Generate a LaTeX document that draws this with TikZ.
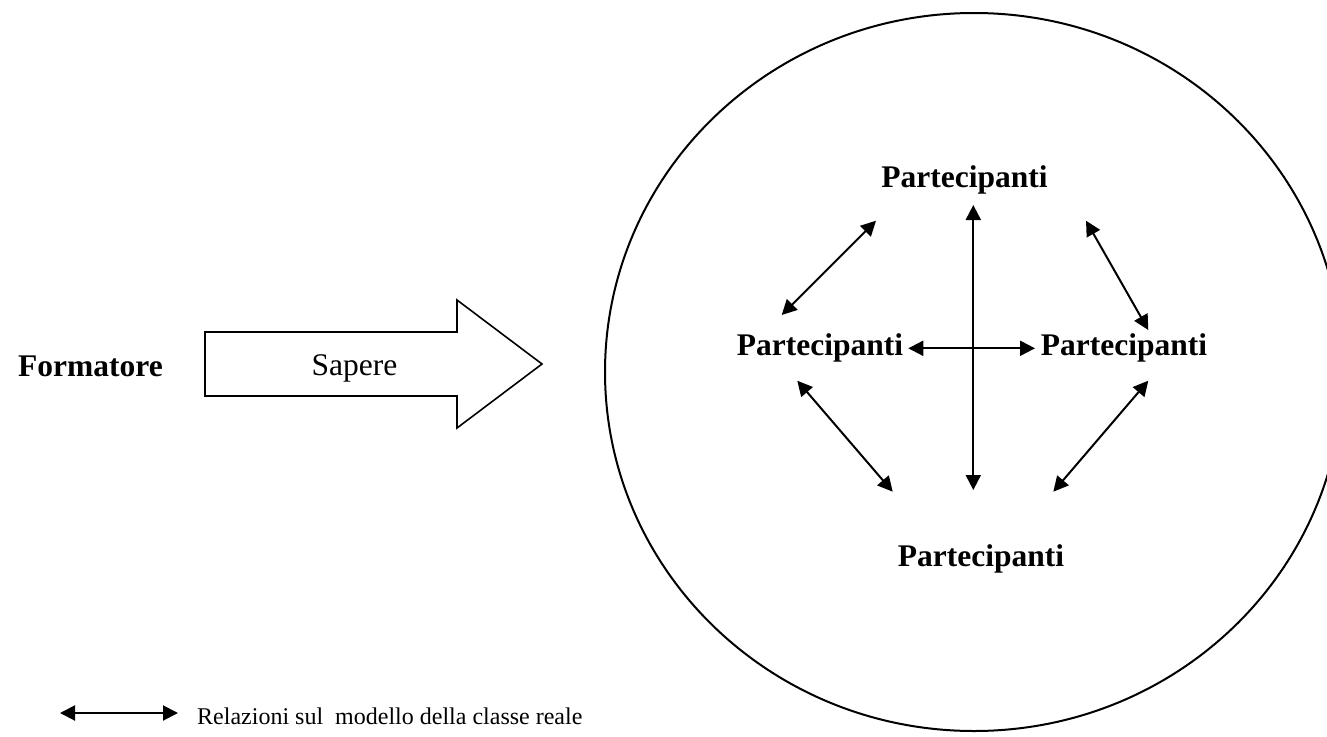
\documentclass[tikz,border=0pt]{standalone}
\usepackage{fontspec}
\setmainfont{Liberation Serif}
\usetikzlibrary{arrows.meta}
\begin{document}
\begin{tikzpicture}[x=1pt,y=-1pt,
  lbl/.style={inner sep=0pt,font=\fontsize{31.5}{36}\selectfont\bfseries},
  rel/.style={line width=2pt,{Triangle[length=15pt,width=15pt]}-{Triangle[length=15pt,width=15pt]}},
  bigarrow/.style={line width=1.6pt,line join=miter},
  ring/.style={line width=2pt}]
\useasboundingbox (0,0) rectangle (1327,736);
\clip (0,0) rectangle (1327,736);
% big circle
\draw[ring] (974,372) ellipse [x radius=369pt, y radius=359pt];
% Sapere arrow
\draw[bigarrow] (205,332) -- (457,332) -- (457,300) -- (542,364) -- (457,428) -- (457,396) -- (205,396) -- cycle;
\node[inner sep=0pt,anchor=base,font=\fontsize{31.5}{36}\selectfont] (sapere) at (354.5,375) {Sapere};
\node[lbl,anchor=base east] (form) at (163,376.5) {Formatore};
% participants
\node[lbl,anchor=base] (ptop) at (964.5,187) {Partecipanti};
\node[lbl,anchor=base] (pleft) at (820,355) {Partecipanti};
\node[lbl,anchor=base] (pright) at (1124,355) {Partecipanti};
\node[lbl,anchor=base] (pbot) at (981,566) {Partecipanti};
% connector end points
\coordinate (vt) at (973.3,205);
\coordinate (vb) at (973.3,490);
\coordinate (hl) at (908.3,348.3);
\coordinate (hr) at (1035,348.3);
\coordinate (ula) at (781.7,315);
\coordinate (ulb) at (876,220.7);
\coordinate (ura) at (1086,220.7);
\coordinate (urb) at (1148.3,330);
\coordinate (lla) at (797.3,380.7);
\coordinate (llb) at (892.7,491.7);
\coordinate (lra) at (1148.3,380.7);
\coordinate (lrb) at (1053.3,491.7);
\draw[rel] (vt) -- (vb);
\draw[rel] (hl) -- (hr);
\draw[rel] (ula) -- (ulb);
\draw[rel] (ura) -- (urb);
\draw[rel] (lla) -- (llb);
\draw[rel] (lra) -- (lrb);
% legend
\coordinate (lega) at (60,713);
\coordinate (legb) at (178,713);
\draw[rel] (lega) -- (legb);
\node[inner sep=0pt,anchor=base west,font=\fontsize{24}{28}\selectfont] (legtxt) at (197,724) {Relazioni sul\ \ modello della classe reale};
\end{tikzpicture}
\end{document}
